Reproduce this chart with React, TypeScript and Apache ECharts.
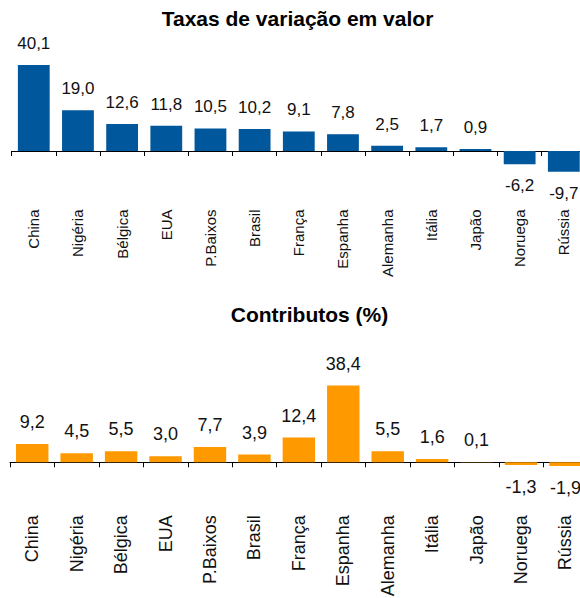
import React, { useEffect, useRef } from "react";
import * as echarts from "echarts";

const categories = ["China", "Nigéria", "Bélgica", "EUA", "P.Baixos", "Brasil", "França", "Espanha", "Alemanha", "Itália", "Japão", "Noruega", "Rússia"];
const variationValues = [40.1, 19.0, 12.6, 11.8, 10.5, 10.2, 9.1, 7.8, 2.5, 1.7, 0.9, -6.2, -9.7];
const contributionValues = [9.2, 4.5, 5.5, 3.0, 7.7, 3.9, 12.4, 38.4, 5.5, 1.6, 0.1, -1.3, -1.9];
const topTitle = "Taxas de variação em valor";
const bottomTitle = "Contributos (%)";

const FONT = "'Liberation Sans', Arial, Helvetica, sans-serif";

function fmt(v: number) {
  return v.toFixed(1).replace(".", ",");
}

function toItems(values: number[]) {
  return values.map((v) => ({
    value: v,
    label: { position: v < 0 ? "bottom" : "top" },
  }));
}

export default function App() {
  const ref = useRef<HTMLDivElement>(null);
  useEffect(() => {
    document.body.style.margin = "0";
    if (!ref.current) return;
    const chart = echarts.init(ref.current, undefined, { renderer: "svg" });
    const xAxisCommon = {
      type: "category",
      data: categories,
      axisLine: { onZero: true, lineStyle: { color: "#000", width: 1 } },
      axisTick: { show: true, length: 5, interval: 0, lineStyle: { color: "#000" } },
      splitLine: { show: false },
    };
    chart.setOption({
      animation: false,
      textStyle: { fontFamily: FONT },
      grid: [
        { left: 11.7, top: 65, width: 574.2, height: 107.5, outerBoundsMode: "none", containLabel: false },
        { left: 10, top: 382.3, width: 577.7, height: 100, outerBoundsMode: "none", containLabel: false },
      ],
      xAxis: [
        {
          ...xAxisCommon,
          gridIndex: 0,
          axisLabel: {
            interval: 0, rotate: 90, margin: 37, fontSize: 15, color: "#111", fontFamily: FONT,
            hideOverlap: false, align: "right", verticalAlign: "middle",
          },
        },
        {
          ...xAxisCommon,
          gridIndex: 1,
          axisLabel: {
            interval: 0, rotate: 90, margin: 33, fontSize: 18, color: "#111", fontFamily: FONT,
            hideOverlap: false, align: "right", verticalAlign: "middle",
          },
        },
      ],
      yAxis: [
        { type: "value", gridIndex: 0, min: -10, max: 40, interval: 10, show: false, splitLine: { show: false } },
        { type: "value", gridIndex: 1, min: -10, max: 40, interval: 10, show: false, splitLine: { show: false } },
      ],
      series: [
        {
          type: "bar",
          xAxisIndex: 0,
          yAxisIndex: 0,
          data: toItems(variationValues),
          barCategoryGap: "28%",
          itemStyle: { color: "#00579B" },
          label: {
            show: true,
            distance: 13,
            fontSize: 17,
            color: "#111",
            fontFamily: FONT,
            formatter: (p: any) => fmt(p.value),
          },
        },
        {
          type: "bar",
          xAxisIndex: 1,
          yAxisIndex: 1,
          data: toItems(contributionValues),
          barCategoryGap: "27%",
          itemStyle: { color: "#FF9900" },
          label: {
            show: true,
            distance: 13,
            fontSize: 18,
            color: "#111",
            fontFamily: FONT,
            formatter: (p: any) => fmt(p.value),
          },
        },
      ],
      graphic: [
        {
          type: "text",
          x: 297.5,
          y: 18.5,
          style: {
            text: topTitle,
            fontSize: 21,
            fontWeight: "bold",
            fontFamily: FONT,
            fill: "#000",
            textAlign: "center",
            textVerticalAlign: "middle",
          },
        },
        {
          type: "text",
          x: 309.5,
          y: 314,
          style: {
            text: bottomTitle,
            fontSize: 21,
            fontWeight: "bold",
            fontFamily: FONT,
            fill: "#000",
            textAlign: "center",
            textVerticalAlign: "middle",
          },
        },
      ],
    });
    return () => chart.dispose();
  }, []);
  return <div ref={ref} style={{ width: 580, height: 598 }} />;
}
